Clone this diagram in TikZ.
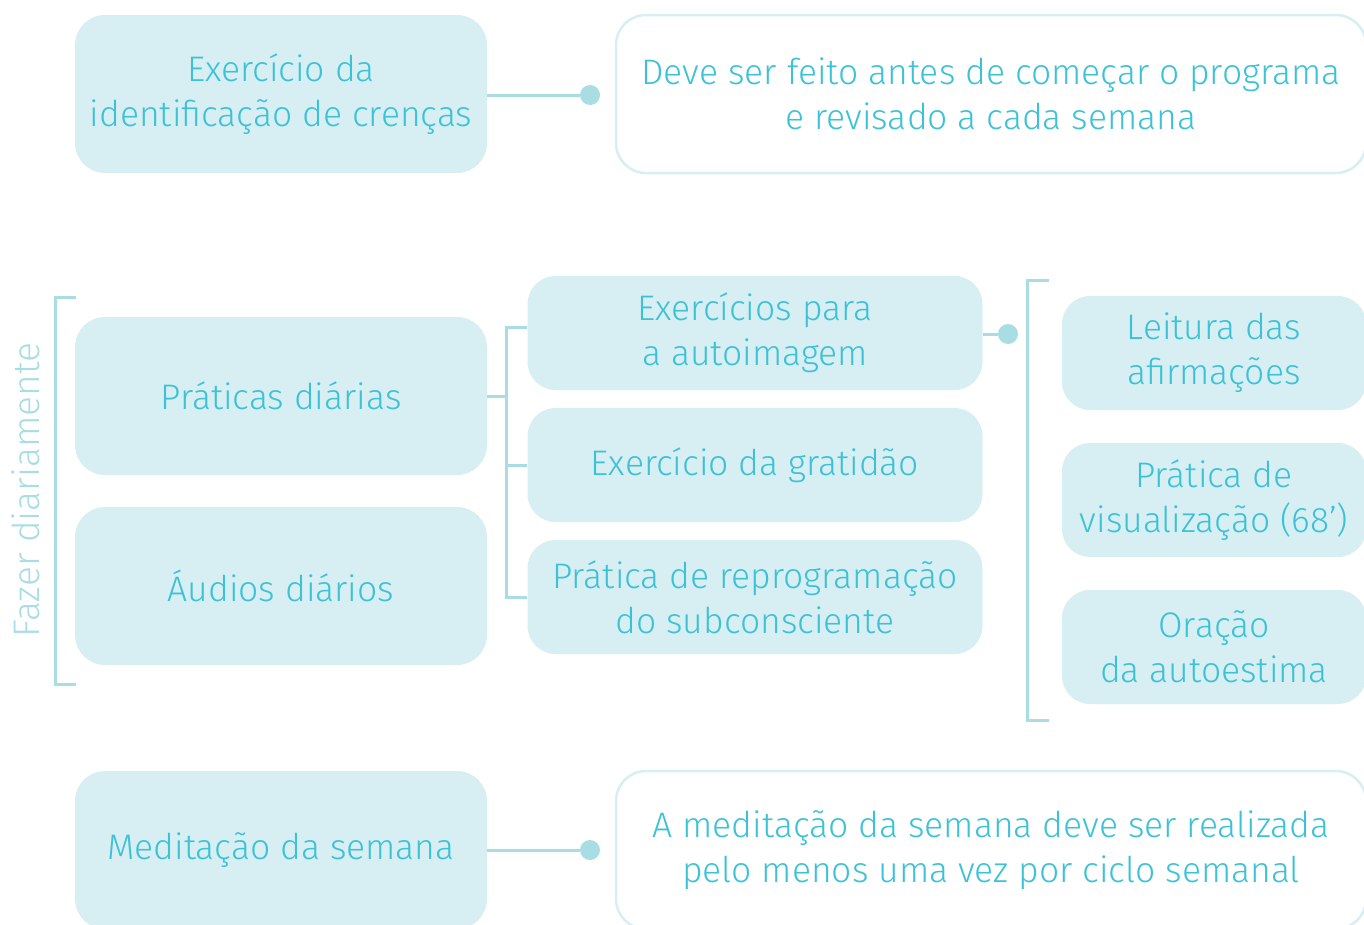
\documentclass[tikz,border=0pt]{standalone}
\usepackage{fontspec}
\setmainfont{Fira Sans}[UprightFont=* Light]
\usetikzlibrary{positioning}
\definecolor{boxfill}{HTML}{D7EEF2}
\definecolor{linecol}{HTML}{A9DDE4}
\definecolor{txtcol}{HTML}{3CC2D6}
\begin{document}
\begin{tikzpicture}[x=1pt,y=-1pt,
    every node/.style={text=txtcol,align=center,font=\fontsize{35.5}{45}\selectfont},
    topic/.style={fill=boxfill,rounded corners=30pt,minimum width=412pt,minimum height=158pt},
    sub/.style={fill=boxfill,rounded corners=28pt,minimum width=455pt,minimum height=114pt},
    leaf/.style={fill=boxfill,rounded corners=28pt,minimum width=304pt,minimum height=114pt},
    note/.style={draw=boxfill,line width=2.5pt,rounded corners=30pt,minimum width=750pt,minimum height=158pt},
    link/.style={draw=linecol,line width=3pt},
    dot/.style={circle,fill=linecol,inner sep=0pt,minimum size=20pt}]
   \clip (0,0) rectangle (1364,924);
   % top row
   \node[topic] (belief) at (281,94) {Exercício da\\identificação de crenças};
   \node[note] (beliefnote) at (991,94) {Deve ser feito antes de começar o programa\\e revisado a cada semana};
   \node[dot] (d1) at (590,95) {};
   \draw[link] (belief.east |- d1) -- (d1);
   % daily block
   \node[topic] (daily) at (281,396) {Práticas diárias};
   \node[topic] (audio) at (281,586) {Áudios diários};
   \node[rotate=90,text=linecol,font=\fontsize{37}{45}\selectfont] (fazer) at (26,490) {Fazer diariamente};
   \draw[link] (76,297) -- (55,297) -- (55,684) -- (76,684);
   \node[sub] (selfimg) at (755,333) {Exercícios para\\a autoimagem};
   \node[sub] (thanks) at (755,465) {Exercício da gratidão};
   \node[sub] (reprog) at (755,597) {Prática de reprogramação\\do subconsciente};
   \coordinate (fork) at (506,396);
   \draw[link] (daily.east) -- (fork);
   \draw[link] (selfimg.west |- 0,327) -- (506,327) -- (506,597) -- (reprog.west);
   \draw[link] (506,465) -- (thanks.west);
   \node[dot] (d2) at (1008,334) {};
   \draw[link] (selfimg.east |- d2) -- (d2);
   \draw[link] (1049,280) -- (1027,280) -- (1027,720) -- (1049,720);
   \node[leaf] (read) at (1214,353) {Leitura das\\afirmações};
   \node[leaf] (visual) at (1214,500) {Prática de\\visualização (68’)};
   \node[leaf] (prayer) at (1214,647) {Oração\\da autoestima};
   % bottom row
   \node[topic] (medit) at (281,850) {Meditação da semana};
   \node[note] (meditnote) at (991,850) {A meditação da semana deve ser realizada\\pelo menos uma vez por ciclo semanal};
   \node[dot] (d3) at (590,850) {};
   \draw[link] (medit.east |- d3) -- (d3);
\end{tikzpicture}
\end{document}
